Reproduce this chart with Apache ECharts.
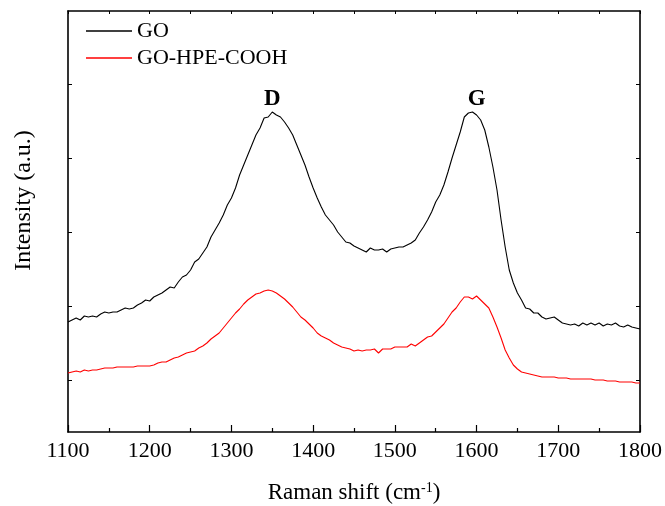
<!DOCTYPE html>
<html>
<head>
<meta charset="utf-8">
<script src="https://cdn.jsdelivr.net/npm/echarts@6/dist/echarts.min.js"></script>
<style>
  html, body { margin: 0; padding: 0; background: #fff; }
  #chart { width: 665px; height: 506px; }
</style>
</head>
<body>
<div id="chart"></div>
<script>
// Raman shift (cm^-1), 5 cm^-1 steps
const shift = [
  1100, 1105, 1110, 1115, 1120, 1125, 1130, 1135, 1140, 1145,
  1150, 1155, 1160, 1165, 1170, 1175, 1180, 1185, 1190, 1195,
  1200, 1205, 1210, 1215, 1220, 1225, 1230, 1235, 1240, 1245,
  1250, 1255, 1260, 1265, 1270, 1275, 1280, 1285, 1290, 1295,
  1300, 1305, 1310, 1315, 1320, 1325, 1330, 1335, 1340, 1345,
  1350, 1355, 1360, 1365, 1370, 1375, 1380, 1385, 1390, 1395,
  1400, 1405, 1410, 1415, 1420, 1425, 1430, 1435, 1440, 1445,
  1450, 1455, 1460, 1465, 1470, 1475, 1480, 1485, 1490, 1495,
  1500, 1505, 1510, 1515, 1520, 1525, 1530, 1535, 1540, 1545,
  1550, 1555, 1560, 1565, 1570, 1575, 1580, 1585, 1590, 1595,
  1600, 1605, 1610, 1615, 1620, 1625, 1630, 1635, 1640, 1645,
  1650, 1655, 1660, 1665, 1670, 1675, 1680, 1685, 1690, 1695,
  1700, 1705, 1710, 1715, 1720, 1725, 1730, 1735, 1740, 1745,
  1750, 1755, 1760, 1765, 1770, 1775, 1780, 1785, 1790, 1795,
  1800
];

// GO spectrum (a.u.)
const goIntensity = [
  110, 112, 114, 112, 116, 115, 116, 115, 118, 120,
  119, 120, 120, 122, 124, 123, 124, 127, 129, 132,
  131, 135, 137, 139, 142, 145, 144, 150, 155, 157,
  162, 170, 173, 179, 185, 195, 202, 209, 217, 227,
  234, 244, 257, 267, 277, 287, 297, 304, 314, 315,
  320, 317, 315, 310, 304, 297, 287, 277, 267, 255,
  244, 234, 225, 217, 212, 207, 200, 195, 190, 189,
  186, 184, 182, 180, 184, 182, 182, 183, 180, 183,
  184, 185, 185, 187, 189, 192, 199, 205, 212, 220,
  230, 237, 247, 260, 274, 287, 300, 315, 319, 320,
  317, 312, 302, 285, 265, 242, 212, 185, 162, 149,
  139, 132, 124, 123, 119, 119, 115, 113, 114, 115,
  112, 109, 108, 107, 108, 106, 109, 107, 109, 107,
  109, 106, 108, 107, 109, 106, 105, 107, 105, 104,
  103
];

// GO-HPE-COOH spectrum (a.u.)
const hpeIntensity = [
  59, 60, 61, 60, 62, 61, 62, 62, 63, 64,
  64, 64, 65, 65, 65, 65, 65, 66, 66, 66,
  66, 67, 69, 70, 70, 72, 74, 75, 77, 79,
  80, 81, 84, 86, 89, 93, 96, 99, 104, 109,
  114, 119, 123, 128, 132, 135, 138, 139, 141, 142,
  141, 139, 136, 133, 129, 125, 120, 115, 112, 108,
  104, 99, 96, 94, 92, 89, 87, 85, 84, 83,
  81, 82, 81, 82, 82, 83, 79, 83, 83, 83,
  85, 85, 85, 85, 88, 86, 89, 92, 95, 96,
  100, 104, 108, 114, 120, 124, 130, 135, 135, 133,
  136, 132, 128, 124, 115, 105, 94, 82, 74, 67,
  63, 60, 59, 58, 57, 56, 55, 55, 55, 55,
  54, 54, 54, 53, 53, 53, 53, 53, 53, 52,
  52, 52, 51, 51, 51, 50, 50, 50, 50, 49,
  49
];

// Band labels
const bandNames = ['D', 'G'];
const bandShift = [1350, 1600];
const bandLabelLevel = [333, 333];

// Unlabelled intensity ticks
const yTicks = [52, 126, 200, 274, 348];

const FONT = '"Liberation Serif", "Times New Roman", serif';

const toPairs = (ys) => shift.map((w, i) => [w, ys[i]]);

const frameLine = () => ({ show: true, onZero: false, lineStyle: { color: '#000', width: 1.6 } });

const chart = echarts.init(document.getElementById('chart'), null, { renderer: 'canvas' });

chart.setOption({
  animation: false,
  backgroundColor: '#fff',
  grid: { left: 68, right: 25, top: 11, bottom: 74, containLabel: false, outerBoundsMode: 'none' },
  legend: {
    orient: 'vertical',
    left: 86,
    top: 20,
    padding: 0,
    itemGap: 5,
    itemWidth: 46,
    itemHeight: 1.3,
    textStyle: { fontFamily: FONT, fontSize: 22, color: '#000' },
    data: [
      { name: 'GO', icon: 'rect' },
      { name: 'GO-HPE-COOH', icon: 'rect' }
    ]
  },
  xAxis: [
    {
      type: 'value',
      position: 'bottom',
      min: 1100,
      max: 1800,
      interval: 100,
      axisLine: frameLine(),
      axisTick: { show: true, inside: true, length: 7, lineStyle: { color: '#000', width: 1.2 } },
      minorTick: { show: true, splitNumber: 2, length: 4, lineStyle: { color: '#000', width: 1.2 } },
      axisLabel: { color: '#000', fontFamily: FONT, fontSize: 22, margin: 8, formatter: (v) => String(v) },
      splitLine: { show: false },
      name: '{t|Raman shift (cm}{s|-1}{t|)}',
      nameLocation: 'middle',
      nameGap: 49,
      nameTextStyle: {
        rich: {
          t: { fontFamily: FONT, fontSize: 23, color: '#000' },
          s: { fontFamily: FONT, fontSize: 14, color: '#000', verticalAlign: 'top', padding: [0, 0, 10, 0] }
        }
      }
    },
    {
      type: 'value',
      position: 'top',
      min: 1100,
      max: 1800,
      interval: 50,
      axisLine: frameLine(),
      axisTick: { show: true, inside: true, length: 3, lineStyle: { color: '#000', width: 1 } },
      axisLabel: { show: false },
      splitLine: { show: false }
    }
  ],
  yAxis: [
    {
      type: 'value',
      position: 'left',
      min: 0,
      max: 421,
      axisLine: frameLine(),
      axisTick: { show: true, inside: true, length: 4, customValues: yTicks, lineStyle: { color: '#000', width: 1 } },
      axisLabel: { show: false },
      splitLine: { show: false },
      name: 'Intensity (a.u.)',
      nameLocation: 'middle',
      nameGap: 32,
      nameTextStyle: { fontFamily: FONT, fontSize: 24, color: '#000', padding: [0, 0, 0, 42] }
    },
    {
      type: 'value',
      position: 'right',
      min: 0,
      max: 421,
      axisLine: frameLine(),
      axisTick: { show: true, inside: true, length: 4, customValues: yTicks, lineStyle: { color: '#000', width: 1 } },
      axisLabel: { show: false },
      splitLine: { show: false }
    }
  ],
  series: [
    {
      name: 'GO',
      type: 'line',
      xAxisIndex: 0,
      yAxisIndex: 0,
      data: toPairs(goIntensity),
      symbol: 'none',
      lineStyle: { color: '#000', width: 1.1 },
      itemStyle: { color: '#000' },
      markPoint: {
        symbol: 'circle',
        symbolSize: 1,
        itemStyle: { color: 'rgba(0,0,0,0)' },
        label: {
          show: true,
          position: 'inside',
          formatter: '{b}',
          fontFamily: FONT,
          fontSize: 23,
          fontWeight: 'bold',
          color: '#000'
        },
        data: bandNames.map((n, i) => ({ name: n, coord: [bandShift[i], bandLabelLevel[i]] }))
      }
    },
    {
      name: 'GO-HPE-COOH',
      type: 'line',
      xAxisIndex: 0,
      yAxisIndex: 0,
      data: toPairs(hpeIntensity),
      symbol: 'none',
      lineStyle: { color: '#ff0000', width: 1.1 },
      itemStyle: { color: '#ff0000' }
    }
  ]
});
</script>
</body>
</html>
